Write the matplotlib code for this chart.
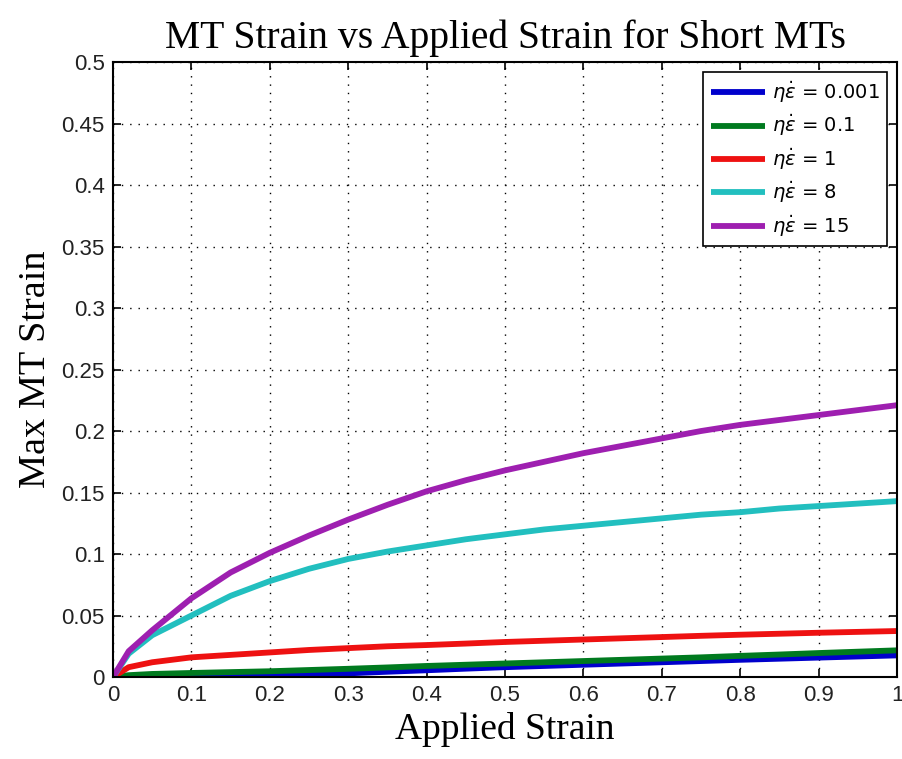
import numpy as np
import matplotlib
matplotlib.use("Agg")
import matplotlib.pyplot as plt

# values
x = [0, 0.02, 0.05, 0.1, 0.15, 0.2, 0.25, 0.3, 0.35, 0.4, 0.45, 0.5,
     0.55, 0.6, 0.65, 0.7, 0.75, 0.8, 0.85, 0.9, 0.95, 1.0]

y_0001 = [0, 0, 0, 0, 0, 0.0008, 0.0018, 0.003, 0.0043, 0.0055, 0.0068, 0.008,
          0.009, 0.010, 0.011, 0.012, 0.013, 0.014, 0.0149, 0.0158, 0.0167, 0.0176]
y_01 = [0, 0.0015, 0.0025, 0.0033, 0.004, 0.0047, 0.0057, 0.0067, 0.0078, 0.009, 0.010, 0.011,
        0.012, 0.013, 0.014, 0.015, 0.016, 0.0172, 0.0183, 0.0195, 0.0206, 0.0217]
y_1 = [0, 0.008, 0.012, 0.016, 0.018, 0.020, 0.022, 0.0235, 0.025, 0.026, 0.0272, 0.0285,
       0.0295, 0.0305, 0.0315, 0.0325, 0.0335, 0.0344, 0.0352, 0.036, 0.0367, 0.0374]
y_8 = [0, 0.019, 0.034, 0.050, 0.066, 0.078, 0.088, 0.096, 0.102, 0.107, 0.112, 0.116,
       0.120, 0.123, 0.126, 0.129, 0.132, 0.134, 0.137, 0.139, 0.141, 0.143]
y_15 = [0, 0.021, 0.038, 0.064, 0.085, 0.101, 0.115, 0.128, 0.140, 0.151, 0.160, 0.168,
        0.175, 0.182, 0.188, 0.194, 0.200, 0.205, 0.209, 0.213, 0.217, 0.221]

series = [
    (y_0001, "#0000cc", r"$\eta\dot{\epsilon}$ = 0.001"),
    (y_01, "#007a1f", r"$\eta\dot{\epsilon}$ = 0.1"),
    (y_1, "#ee1111", r"$\eta\dot{\epsilon}$ = 1"),
    (y_8, "#22bfbf", r"$\eta\dot{\epsilon}$ = 8"),
    (y_15, "#9e1fb0", r"$\eta\dot{\epsilon}$ = 15"),
]

fig = plt.figure(figsize=(9.02, 7.59), dpi=100)
ax = fig.add_axes([0.1253, 0.108, 0.8692, 0.8103])

for ys, c, lab in series:
    ax.plot(x, ys, color=c, lw=4.2, label=lab, solid_capstyle="butt")

ax.set_xlim(0, 1)
ax.set_ylim(0, 0.5)
ax.set_xticks(np.arange(0, 1.01, 0.1))
ax.set_yticks(np.arange(0, 0.501, 0.05))
ax.set_xticklabels(["0", "0.1", "0.2", "0.3", "0.4", "0.5", "0.6", "0.7", "0.8", "0.9", "1"])
ax.set_yticklabels(["0", "0.05", "0.1", "0.15", "0.2", "0.25", "0.3", "0.35", "0.4", "0.45", "0.5"])
ax.tick_params(direction="in", top=True, right=True, length=6, width=1.2,
               labelsize=16, pad=6)
for lbl in ax.get_xticklabels() + ax.get_yticklabels():
    lbl.set_family("Liberation Sans")
    lbl.set_color("#222222")
for s in ax.spines.values():
    s.set_linewidth(1.5)

ax.grid(True, color="black", linestyle=(0, (1, 5)), linewidth=1)

ax.set_title("MT Strain vs Applied Strain for Short MTs", family="Liberation Serif",
             fontsize=28.5, pad=10)
ax.set_xlabel("Applied Strain", family="Liberation Serif", fontsize=27, labelpad=4)
ax.set_ylabel("Max MT Strain", family="Liberation Serif", fontsize=27.5, labelpad=6)

leg = ax.legend(loc="upper right", prop={"size": 14}, fancybox=False, framealpha=1,
                edgecolor="black", handlelength=2.8, handletextpad=0.35,
                borderaxespad=0.5, labelspacing=0.4, borderpad=0.4)
leg.get_frame().set_linewidth(1.2)

fig.savefig("out.png", dpi=100)
